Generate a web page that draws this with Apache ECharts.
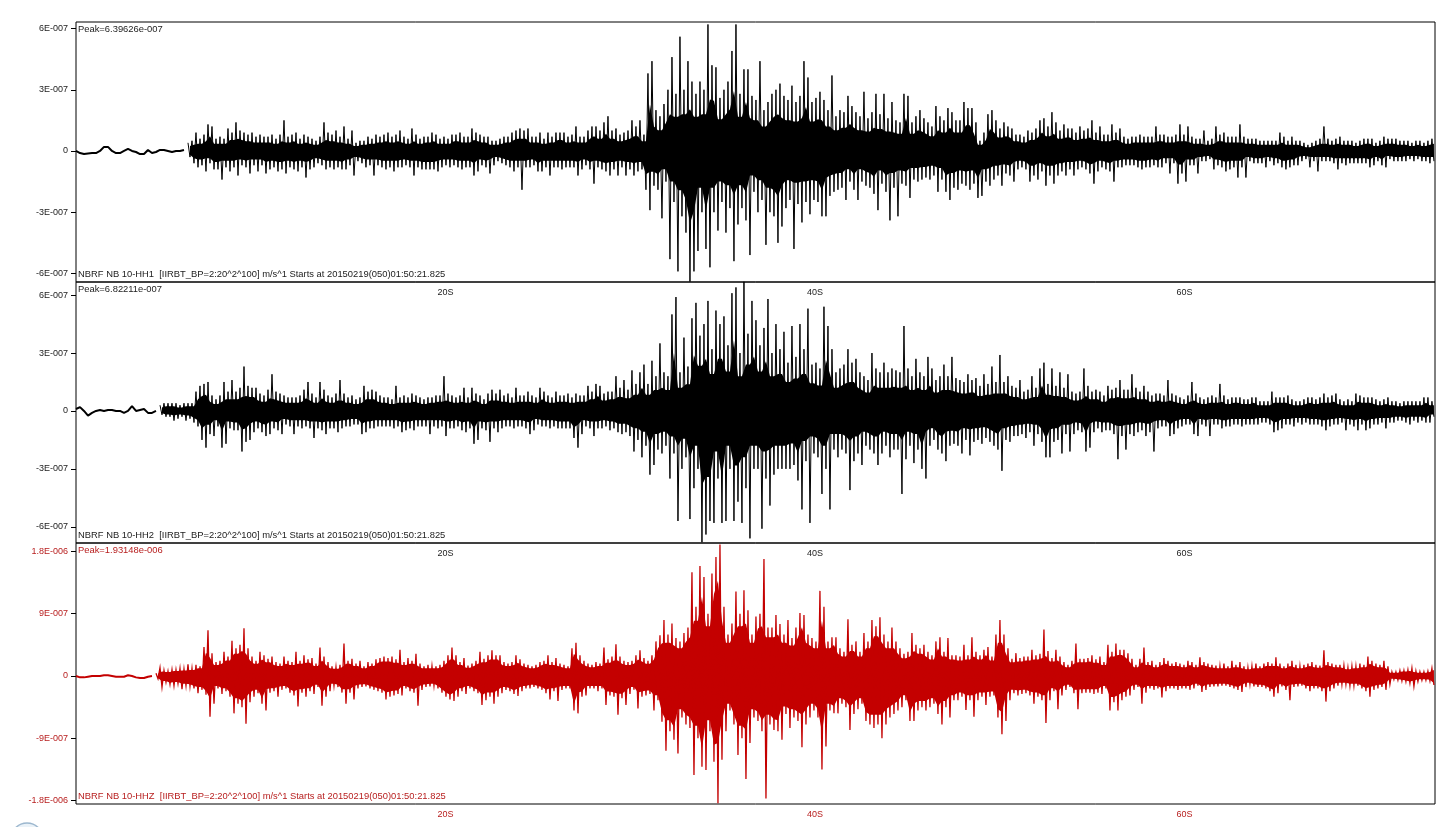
<!DOCTYPE html>
<html>
<head>
<meta charset="utf-8">
<style>html,body{margin:0;padding:0;background:#fff}#mainChart{width:1436px;height:827px}</style>
<script src="https://cdn.jsdelivr.net/npm/echarts@6/dist/echarts.min.js"></script>
</head>
<body>
<div id="mainChart"></div>
<script>
// amplitudes are in units of 1e-8 m/s, one column every 0.2165 s
var dt = 0.2165
var xTicks = [20, 40, 60]

var yTicks1 = [-60, -30, 0, 30, 60]
var yTicks2 = [-60, -30, 0, 30, 60]
var yTicks3 = [-180, -90, 0, 90, 180]
var yLabels1 = ["-6E-007", "-3E-007", "0", "3E-007", "6E-007"]
var yLabels2 = ["-6E-007", "-3E-007", "0", "3E-007", "6E-007"]
var yLabels3 = ["-1.8E-006", "-9E-007", "0", "9E-007", "1.8E-006"]

var peakText1 = "Peak=6.39626e-007"
var peakText2 = "Peak=6.82211e-007"
var peakText3 = "Peak=1.93148e-006"
var infoText1 = "NBRF NB 10-HH1  [IIRBT_BP=2:20^2^100] m/s^1 Starts at 20150219(050)01:50:21.825"
var infoText2 = "NBRF NB 10-HH2  [IIRBT_BP=2:20^2^100] m/s^1 Starts at 20150219(050)01:50:21.825"
var infoText3 = "NBRF NB 10-HHZ  [IIRBT_BP=2:20^2^100] m/s^1 Starts at 20150219(050)01:50:21.825"

// HH1
var quiet1 = [0,-1,-1.5,-1.2,-1,-1,0,2,2,0,-1,-1,0,1,0,-.5,-1.5,-1.5,.5,-1,-.5,.5,.5,0,-.5,0,0,.5]
var hi1 = [4,5,9,6,8,13,12,6,7,6,11,9,14,10,9,8,9,7,8,7,
7,8,6,8,15,7,8,9,6,8,7,6,5,7,14,9,8,10,7,12,
6,10,4,5,5,7,6,8,7,8,9,7,8,10,7,6,11,8,6,7,
7,9,8,6,7,6,8,8,9,7,7,11,9,8,7,7,5,5,6,7,
7,9,10,11,10,11,7,7,9,6,9,7,9,9,9,7,8,12,7,7,
10,12,12,10,14,17,10,11,8,9,10,15,12,15,8,38,44,20,17,23,
30,46,28,56,30,44,34,28,34,30,62,42,41,26,30,34,49,62,28,40,
40,27,25,44,20,24,28,30,33,27,25,32,24,27,44,36,24,26,29,25,
20,37,17,20,19,27,22,19,17,29,16,19,28,18,28,16,24,15,14,28,
27,14,17,20,16,14,12,22,17,15,21,19,15,15,24,21,21,14,5,9,
18,20,15,11,14,12,11,8,8,7,10,9,11,15,16,12,19,14,10,13,
11,11,9,12,10,11,15,9,12,8,8,13,9,11,7,6,7,7,8,7,
7,7,12,8,8,7,7,8,13,8,12,7,6,6,10,5,6,12,8,9,
7,7,7,13,7,6,6,6,5,5,5,5,5,9,7,5,7,5,5,4,
3,4,5,6,12,6,5,6,7,5,5,5,4,5,6,6,6,4,5,7,6,6,6,5,5,5,4,5,5,4,5,6]
var lo1 = [-3,-6,-8,-7,-10,-6,-9,-9,-14,-8,-10,-8,-12,-7,-8,-11,-7,-10,-7,-11,
-9,-8,-10,-9,-11,-8,-9,-10,-8,-13,-9,-8,-6,-7,-9,-8,-9,-8,-9,-9,
-7,-12,-5,-6,-8,-7,-12,-7,-8,-9,-8,-10,-8,-8,-7,-8,-12,-8,-9,-9,
-9,-9,-10,-8,-7,-8,-7,-8,-9,-8,-8,-12,-10,-7,-8,-11,-7,-5,-6,-7,
-8,-10,-8,-19,-8,-8,-7,-10,-10,-8,-12,-8,-8,-9,-8,-8,-8,-12,-9,-7,
-9,-16,-8,-9,-10,-12,-9,-12,-8,-12,-9,-12,-10,-9,-19,-29,-17,-19,-33,-15,
-53,-25,-59,-32,-40,-64,-59,-49,-30,-48,-57,-30,-39,-25,-40,-28,-54,-36,-28,-34,
-51,-20,-30,-24,-46,-30,-32,-45,-37,-28,-24,-48,-26,-35,-25,-31,-24,-25,-32,-32,
-22,-20,-19,-18,-24,-15,-19,-24,-15,-17,-18,-21,-29,-16,-20,-34,-18,-32,-16,-17,
-23,-14,-15,-14,-13,-14,-12,-20,-14,-20,-24,-18,-19,-16,-17,-19,-16,-23,-22,-15,
-17,-14,-12,-17,-11,-12,-15,-9,-8,-9,-15,-12,-14,-10,-17,-12,-16,-12,-10,-12,
-9,-12,-9,-8,-9,-11,-16,-10,-8,-9,-10,-15,-8,-8,-7,-7,-7,-8,-9,-8,
-8,-7,-8,-8,-6,-11,-6,-16,-11,-15,-7,-7,-11,-5,-5,-4,-9,-7,-8,-10,
-9,-8,-13,-8,-13,-5,-6,-6,-6,-8,-5,-7,-6,-8,-9,-8,-7,-7,-5,-4,
-8,-5,-10,-5,-5,-5,-6,-9,-6,-7,-6,-6,-6,-6,-6,-8,-7,-5,-7,-8,-4,-5,-5,-5,-5,-4,-5,-4,-5,-5,-6,-5]

// HH2
var quiet2 = [1,2,0,-2.4,-1,0,.5,0,.5,.5,0,0,-1,0,2.5,0,.5,1,-1,-1,0]
var hi2 = [3,4,4,4,4,3,4,4,4,10,13,14,15,8,6,8,15,10,16,10,
12,23,13,12,12,9,8,11,19,10,9,8,7,7,7,8,11,15,9,7,
15,11,8,7,9,16,9,7,8,6,7,13,10,11,10,8,7,7,6,13,
7,8,7,9,8,7,6,7,7,8,8,18,9,8,7,8,12,7,12,9,
8,6,9,11,9,11,8,9,7,12,8,8,10,8,7,12,10,8,7,10,
8,8,9,7,9,8,8,13,10,14,13,9,10,10,18,12,16,11,21,14,
20,24,14,26,18,35,20,18,50,59,20,38,23,48,56,39,45,57,32,52,
45,49,34,61,64,30,67,40,57,47,34,43,58,30,45,32,41,25,44,28,
45,32,53,24,25,22,54,44,32,20,22,24,32,25,27,20,18,16,30,22,
20,25,20,22,21,20,44,22,18,27,20,18,28,22,16,18,24,18,28,17,
16,15,19,16,17,13,19,14,23,15,29,15,18,13,12,16,10,11,18,12,
22,25,14,22,13,20,12,19,10,9,10,22,13,10,11,10,8,13,11,12,
16,11,11,19,12,10,13,10,8,9,9,8,16,9,8,7,6,8,15,9,
7,6,7,8,7,14,8,6,7,7,7,6,6,7,7,5,5,5,10,7,
7,7,8,6,5,5,6,7,7,6,7,9,7,8,9,6,5,6,5,9,
8,7,7,7,6,5,6,7,5,5,4,5,5,5,5,5,7,7,5]
var lo2 = [-2,-3,-3,-5,-4,-3,-5,-4,-6,-8,-15,-19,-12,-13,-8,-19,-17,-9,-10,-10,
-21,-16,-15,-11,-9,-11,-13,-12,-9,-10,-12,-7,-8,-12,-8,-9,-8,-9,-14,-9,
-10,-12,-9,-9,-11,-9,-8,-8,-7,-7,-12,-11,-9,-9,-8,-8,-8,-8,-9,-8,
-11,-10,-9,-10,-8,-8,-8,-12,-8,-9,-8,-13,-9,-9,-8,-10,-11,-9,-17,-15,
-9,-10,-16,-9,-11,-9,-8,-8,-9,-8,-8,-9,-12,-10,-7,-8,-8,-9,-8,-9,
-9,-9,-9,-14,-19,-12,-8,-9,-13,-9,-9,-8,-10,-9,-11,-12,-11,-13,-21,-15,
-24,-18,-33,-28,-20,-22,-18,-35,-22,-57,-30,-24,-56,-40,-30,-68,-64,-57,-58,-35,
-58,-57,-30,-57,-47,-58,-40,-66,-30,-30,-61,-35,-49,-33,-30,-30,-30,-30,-28,-36,
-51,-26,-58,-22,-24,-43,-30,-51,-20,-24,-20,-22,-41,-26,-22,-28,-18,-20,-22,-28,
-22,-18,-24,-20,-20,-43,-25,-18,-27,-20,-30,-35,-18,-15,-20,-22,-26,-18,-17,-18,
-22,-15,-23,-16,-15,-17,-14,-16,-18,-20,-31,-15,-16,-13,-13,-12,-14,-11,-18,-12,
-16,-24,-24,-16,-15,-22,-12,-21,-12,-10,-11,-21,-19,-11,-9,-11,-10,-10,-12,-25,
-13,-20,-12,-13,-11,-10,-13,-11,-21,-9,-8,-8,-13,-12,-9,-8,-7,-7,-12,-13,
-7,-8,-13,-7,-7,-9,-8,-8,-7,-7,-8,-7,-7,-7,-7,-6,-6,-7,-11,-10,
-9,-7,-7,-8,-6,-7,-6,-7,-7,-7,-8,-10,-8,-7,-7,-6,-10,-7,-8,-10,
-7,-10,-9,-7,-7,-6,-9,-6,-6,-5,-5,-6,-7,-5,-6,-5,-6,-6,-3]

// HHZ
var quiet3 = [0,-2,-2,-1,0,0,0,1,1,0,-1,-1,-1,1,0,-2,-3,-3,-1,0]
var hi3 = [4,12,8,7,9,9,11,10,17,11,16,14,42,66,33,20,22,35,28,51,
40,45,69,40,28,22,35,30,25,28,20,18,28,22,20,35,22,30,24,26,
18,41,28,20,14,13,16,47,22,25,18,22,14,20,18,24,26,28,26,28,
24,38,20,26,22,32,18,14,16,14,14,16,22,30,41,30,20,26,15,18,
22,35,25,30,37,30,30,20,18,20,30,24,18,16,14,16,20,22,30,20,
26,18,16,14,40,48,30,22,18,16,20,18,41,24,28,46,28,22,20,22,
30,37,26,22,30,50,59,81,60,76,55,50,62,70,150,100,159,143,90,148,
172,190,100,60,76,122,90,124,95,60,86,90,169,70,70,88,75,60,81,55,
70,91,88,60,55,50,123,100,50,56,56,40,35,82,45,50,35,62,50,81,
72,85,60,50,70,50,40,32,35,62,45,40,45,35,30,50,56,35,55,30,
30,28,45,30,56,35,30,38,42,28,60,81,60,40,25,33,26,28,28,38,
30,32,67,36,26,38,28,20,16,22,47,25,25,26,30,24,28,20,45,35,
47,38,38,33,25,16,25,41,20,22,16,20,26,22,18,20,18,16,22,20,
16,27,20,18,16,15,14,18,14,22,16,20,14,12,14,18,14,18,20,18,
27,18,14,18,22,16,14,16,18,20,16,15,37,20,18,16,16,15,12,14,
14,18,16,28,22,18,16,22,14,6,6,8,8,9,11,7,6,6,7,11]
var lo3 = [-4,-16,-9,-12,-14,-11,-19,-14,-15,-18,-25,-20,-27,-59,-40,-18,-26,-22,-30,-54,
-40,-45,-69,-38,-30,-25,-40,-50,-24,-22,-30,-20,-18,-24,-28,-44,-24,-30,-22,-26,
-16,-43,-30,-22,-14,-16,-24,-40,-24,-34,-18,-16,-15,-18,-20,-22,-24,-34,-30,-28,
-26,-28,-18,-22,-24,-43,-20,-16,-15,-14,-18,-24,-30,-34,-36,-30,-22,-26,-18,-22,
-25,-42,-35,-30,-40,-30,-25,-20,-22,-26,-29,-22,-18,-18,-16,-18,-20,-25,-34,-22,
-36,-20,-18,-18,-50,-54,-30,-28,-18,-18,-22,-18,-42,-28,-30,-56,-32,-42,-26,-20,
-47,-30,-28,-26,-50,-35,-66,-108,-80,-92,-112,-60,-70,-75,-143,-90,-131,-136,-80,-124,
-184,-121,-80,-50,-70,-114,-90,-149,-97,-60,-65,-80,-177,-70,-78,-80,-92,-55,-75,-60,
-65,-103,-70,-60,-50,-60,-135,-102,-50,-54,-54,-40,-45,-78,-55,-48,-40,-65,-70,-75,
-70,-90,-70,-60,-55,-50,-45,-35,-65,-65,-50,-45,-50,-45,-40,-55,-70,-45,-60,-35,
-35,-30,-49,-35,-59,-35,-30,-42,-30,-28,-60,-84,-65,-35,-25,-28,-26,-25,-28,-40,
-30,-35,-68,-35,-22,-48,-28,-20,-16,-25,-48,-25,-24,-24,-26,-24,-26,-18,-50,-38,
-50,-35,-30,-28,-20,-16,-40,-24,-18,-20,-18,-31,-22,-18,-18,-20,-18,-18,-20,-18,
-14,-23,-20,-16,-15,-15,-14,-14,-16,-18,-20,-23,-16,-12,-15,-16,-16,-18,-22,-30,
-25,-15,-20,-35,-16,-15,-14,-18,-22,-18,-18,-22,-37,-22,-18,-14,-12,-12,-14,-14,
-14,-18,-22,-30,-20,-18,-16,-20,-12,-5,-6,-7,-8,-10,-15,-8,-6,-6,-7,-13]

var myChart = echarts.init(document.getElementById("mainChart"), null, {renderer: "canvas"})

var panels = [
    {top: 22, height: 260, min: -64.2, max: 63.2, color: "#000000", labelColor: "#222222", traceWidth: 1, fill: 0.6,
     quiet: quiet1, hi: hi1, lo: lo1,
     ticks: yTicks1, labels: yLabels1, peak: peakText1, info: infoText1},
    {top: 282, height: 261, min: -68.4, max: 66.8, color: "#000000", labelColor: "#222222", traceWidth: 1, fill: 0.6,
     quiet: quiet2, hi: hi2, lo: lo2,
     ticks: yTicks2, labels: yLabels2, peak: peakText2, info: infoText2},
    {top: 543, height: 261, min: -185, max: 192.2, color: "#c40000", labelColor: "#b82020", traceWidth: 1.3, fill: 0.8,
     quiet: quiet3, hi: hi3, lo: lo3,
     ticks: yTicks3, labels: yLabels3, peak: peakText3, info: infoText3}
]

var grids = [], xAxes = [], yAxes = [], series = [], titles = []

panels.forEach(function (p, n) {
    grids.push({left: 76, width: 1359, top: p.top, height: p.height, show: true,
        borderColor: "#000", borderWidth: 1, backgroundColor: "transparent"})

    xAxes.push({
        type: "value", gridIndex: n, min: 0, max: 73.56, position: "bottom",
        splitLine: {show: false},
        axisLine: {show: false},
        axisTick: {length: 4, customValues: xTicks, lineStyle: {color: "#000"}},
        axisLabel: {customValues: xTicks, margin: 6, fontSize: 9, fontFamily: "Liberation Sans",
            color: n == 2 ? p.labelColor : "#222",
            formatter: function (v) { return v + "S" }}
    })

    yAxes.push({
        type: "value", gridIndex: n, min: p.min, max: p.max,
        splitLine: {show: false},
        axisLine: {show: false},
        axisTick: {length: 5, customValues: p.ticks, lineStyle: {color: "#000"}},
        axisLabel: {customValues: p.ticks, margin: 8, fontSize: 9, fontFamily: "Liberation Sans",
            color: p.labelColor,
            formatter: function (v) { return p.labels[p.ticks.indexOf(v)] }}
    })

    var start = p.quiet.length
    var base = {type: "line", xAxisIndex: n, yAxisIndex: n, showSymbol: false, silent: true,
        animation: false, sampling: null, clip: true}

    // pre-event wiggle
    series.push(Object.assign({}, base, {
        data: p.quiet.map(function (v, i) { return [i * dt, v] }),
        lineStyle: {color: p.color, width: 2}
    }))

    // where neighbouring columns overlap the trace prints solid
    ;[[p.hi, Math.min], [p.lo, Math.max]].forEach(function (side) {
        var arr = side[0]
        series.push(Object.assign({}, base, {
            data: arr.map(function (v, i) {
                var w = i == arr.length - 1 ? v : side[1](v, arr[i + 1])
                return [(start + i + 0.5) * dt, w * p.fill]
            }),
            lineStyle: {width: 0},
            areaStyle: {color: p.color, opacity: 1}
        }))
    })

    // the trace itself, swinging between the upper and lower reading of each column
    var zig = []
    p.hi.forEach(function (v, i) {
        zig.push([(start + i) * dt, v], [(start + i + 0.5) * dt, p.lo[i]])
    })
    series.push(Object.assign({}, base, {
        data: zig,
        lineStyle: {color: p.color, width: p.traceWidth, join: "miter"}
    }))

    titles.push({text: p.peak, left: 78, top: p.top + 3,
        textStyle: {fontSize: 9.4, fontWeight: "normal", fontFamily: "Liberation Sans", color: p.labelColor}, padding: 0})
    titles.push({text: p.info, left: 78, top: p.top + p.height - 12,
        textStyle: {fontSize: 9.4, fontWeight: "normal", fontFamily: "Liberation Sans", color: p.labelColor}, padding: 0})
})

var option = {
    backgroundColor: "#fff",
    animation: false,
    title: titles,
    grid: grids,
    xAxis: xAxes,
    yAxis: yAxes,
    series: series,
    graphic: [{type: "circle", shape: {cx: 27, cy: 839, r: 16},
        style: {fill: "#eaf2f8", stroke: "#9db8cf", lineWidth: 1.5}}]
}

myChart.setOption(option)
</script>
</body>
</html>
